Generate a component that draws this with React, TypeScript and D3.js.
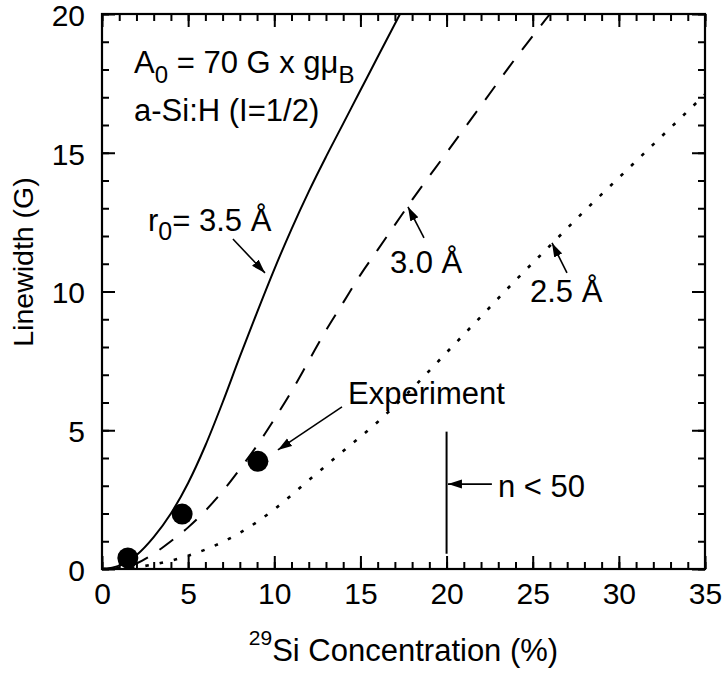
import React, { useRef, useEffect } from 'react';
import * as d3 from 'd3';

// r0 = 3.5 A (solid)
const r35Conc = [0, 1, 2, 3, 4, 5, 6, 7, 8, 9, 10, 11, 12, 13, 14, 15, 16, 17.3];
const r35Width = [0, 0.12, 0.5, 1.15, 2.0, 3.1, 4.45, 6.0, 7.65, 9.25, 10.8, 12.25, 13.6, 14.85, 16.05, 17.25, 18.45, 20];
// r0 = 3.0 A (dashed)
const r30Conc = [0, 1, 2, 3, 4, 5, 6, 7, 8, 9, 10, 11, 12, 13, 14, 15, 16, 17, 18, 20, 22, 24, 26];
const r30Width = [0, 0.05, 0.2, 0.55, 1.0, 1.5, 2.1, 2.8, 3.6, 4.45, 5.4, 6.4, 7.5, 8.6, 9.6, 10.6, 11.5, 12.4, 13.3, 15.0, 16.7, 18.4, 20];
// r0 = 2.5 A (dotted)
const r25Conc = [0, 2, 4, 6, 8, 10, 12, 14, 16, 18, 20, 22, 24, 26, 28, 30, 32, 34, 35];
const r25Width = [0, 0.07, 0.3, 0.7, 1.3, 2.15, 3.2, 4.25, 5.3, 6.5, 7.8, 9.1, 10.4, 11.65, 12.9, 14.1, 15.3, 16.5, 17.1];
// experiment
const expConc = [1.5, 4.65, 9.05];
const expWidth = [0.4, 1.98, 3.88];

const xMajor = [0, 5, 10, 15, 20, 25, 30, 35];
const yMajor = [0, 5, 10, 15, 20];

export default function App() {
  const ref = useRef(null);
  const width = 722, height = 677;
  const margin = { top: 14, right: 17, bottom: 108, left: 102 };
  const font = '"Liberation Sans", Arial, Helvetica, sans-serif';

  useEffect(() => {
    const svg = d3.select(ref.current);
    svg.selectAll('*').remove();

    const x = d3.scaleLinear().domain([0, 35]).range([margin.left, width - margin.right]);
    const y = d3.scaleLinear().domain([0, 20]).range([height - margin.bottom, margin.top]);
    const x0 = margin.left, x1 = width - margin.right, y0 = height - margin.bottom, y1 = margin.top;

    svg.append('defs').append('marker')
      .attr('id', 'ah')
      .attr('markerUnits', 'userSpaceOnUse')
      .attr('viewBox', '0 0 14 10')
      .attr('refX', 14).attr('refY', 5)
      .attr('markerWidth', 14).attr('markerHeight', 10)
      .attr('orient', 'auto')
      .append('path').attr('d', 'M0,0.5 L14,5 L0,9.5 Z').attr('fill', '#000');

    svg.select('defs').append('clipPath').attr('id', 'plot')
      .append('rect').attr('x', x0).attr('y', y1).attr('width', x1 - x0).attr('height', y0 - y1);

    const minorX = d3.range(0, 36);
    const minorY = d3.range(0, 21);
    const axes = svg.append('g');
    const style = (g) => {
      g.select('.domain').remove();
      g.selectAll('line').attr('stroke', '#000').attr('stroke-width', 2);
      g.selectAll('text').attr('font-family', font).attr('font-size', 30).attr('fill', '#000');
    };
    axes.append('g').attr('transform', `translate(0,${y0})`)
      .call(d3.axisBottom(x).tickValues(minorX).tickSize(-7).tickFormat(() => '')).call(style);
    axes.append('g').attr('transform', `translate(0,${y0})`)
      .call(d3.axisBottom(x).tickValues(xMajor).tickSize(-13).tickPadding(14).tickFormat(d3.format('d'))).call(style);
    axes.append('g').attr('transform', `translate(0,${y1})`)
      .call(d3.axisTop(x).tickValues(minorX).tickSize(-7).tickFormat(() => '')).call(style);
    axes.append('g').attr('transform', `translate(0,${y1})`)
      .call(d3.axisTop(x).tickValues(xMajor).tickSize(-13).tickFormat(() => '')).call(style);
    axes.append('g').attr('transform', `translate(${x0},0)`)
      .call(d3.axisLeft(y).tickValues(minorY).tickSize(-7).tickFormat(() => '')).call(style);
    axes.append('g').attr('transform', `translate(${x0},0)`)
      .call(d3.axisLeft(y).tickValues(yMajor).tickSize(-13).tickPadding(17).tickFormat(d3.format('d'))).call(style)
      .selectAll('text').attr('dy', '0.38em');
    axes.append('g').attr('transform', `translate(${x1},0)`)
      .call(d3.axisRight(y).tickValues(minorY).tickSize(-7).tickFormat(() => '')).call(style);
    axes.append('g').attr('transform', `translate(${x1},0)`)
      .call(d3.axisRight(y).tickValues(yMajor).tickSize(-13).tickFormat(() => '')).call(style);

    svg.append('rect').attr('x', x0).attr('y', y1).attr('width', x1 - x0).attr('height', y0 - y1)
      .attr('fill', 'none').attr('stroke', '#000').attr('stroke-width', 2.2);

    const line = d3.line().x(d => x(d[0])).y(d => y(d[1])).curve(d3.curveMonotoneX);
    const curves = svg.append('g').attr('clip-path', 'url(#plot)').attr('fill', 'none').attr('stroke', '#000');
    curves.append('path').attr('d', line(d3.zip(r35Conc, r35Width))).attr('stroke-width', 2);
    curves.append('path').attr('d', line(d3.zip(r30Conc, r30Width))).attr('stroke-width', 2).attr('stroke-dasharray', '17,14');
    curves.append('path').attr('d', line(d3.zip(r25Conc, r25Width))).attr('stroke-width', 2.6).attr('stroke-dasharray', '3.5,11');

    svg.append('g').selectAll('circle').data(d3.zip(expConc, expWidth)).join('circle')
      .attr('cx', d => x(d[0])).attr('cy', d => y(d[1])).attr('r', 10.5).attr('fill', '#000');

    // n < 50 marker
    svg.append('line').attr('x1', x(20)).attr('x2', x(20)).attr('y1', y(0.55)).attr('y2', y(4.95))
      .attr('stroke', '#000').attr('stroke-width', 2);

    const arrows = [
      [7.6, 11.89, 9.46, 10.67],
      [18.69, 11.93, 17.76, 13.05],
      [26.99, 10.67, 26.12, 11.75],
      [13.93, 5.84, 10.21, 4.29],
      [22.63, 3.06, 20.08, 3.06],
    ];
    svg.append('g').selectAll('line').data(arrows).join('line')
      .attr('x1', d => x(d[0])).attr('y1', d => y(d[1])).attr('x2', d => x(d[2])).attr('y2', d => y(d[3]))
      .attr('stroke', '#000').attr('stroke-width', 1.6).attr('marker-end', 'url(#ah)');

    const txt = (cx, cy, size = 31) => svg.append('text').attr('x', x(cx)).attr('y', y(cy))
      .attr('font-family', font).attr('font-size', size).attr('fill', '#000');

    const a0 = txt(1.86, 17.87);
    a0.append('tspan').text('A');
    a0.append('tspan').attr('dy', 10).attr('font-size', 24).text('0');
    a0.append('tspan').attr('dy', -10).text(' = 70 G x gμ');
    a0.append('tspan').attr('dy', 10).attr('font-size', 24).text('B');

    txt(1.86, 16.14).text('a-Si:H (I=1/2)');

    const r0 = txt(2.67, 12.18);
    r0.append('tspan').text('r');
    r0.append('tspan').attr('dy', 9).attr('font-size', 25).text('0');
    r0.append('tspan').attr('dy', -9).text('= 3.5 Å');

    txt(16.71, 10.67).text('3.0 Å');
    txt(24.84, 9.62).text('2.5 Å');
    txt(14.28, 5.95).text('Experiment');
    txt(22.98, 2.59).text('n < 50');

    const xt = svg.append('text').attr('x', (x0 + x1) / 2).attr('y', 661).attr('text-anchor', 'middle')
      .attr('font-family', font).attr('font-size', 31).attr('fill', '#000');
    xt.append('tspan').attr('font-size', 21).attr('dy', -16).text('29');
    xt.append('tspan').attr('dy', 16).text('Si Concentration (%)');

    svg.append('text').attr('transform', `translate(33,262) rotate(-90)`).attr('text-anchor', 'middle')
      .attr('font-family', font).attr('font-size', 28.5).attr('fill', '#000').text('Linewidth (G)');
  }, []);

  return (
    <svg ref={ref} width={width} height={height}
      style={{ position: 'absolute', left: 0, top: 0, background: '#fff' }} />
  );
}
